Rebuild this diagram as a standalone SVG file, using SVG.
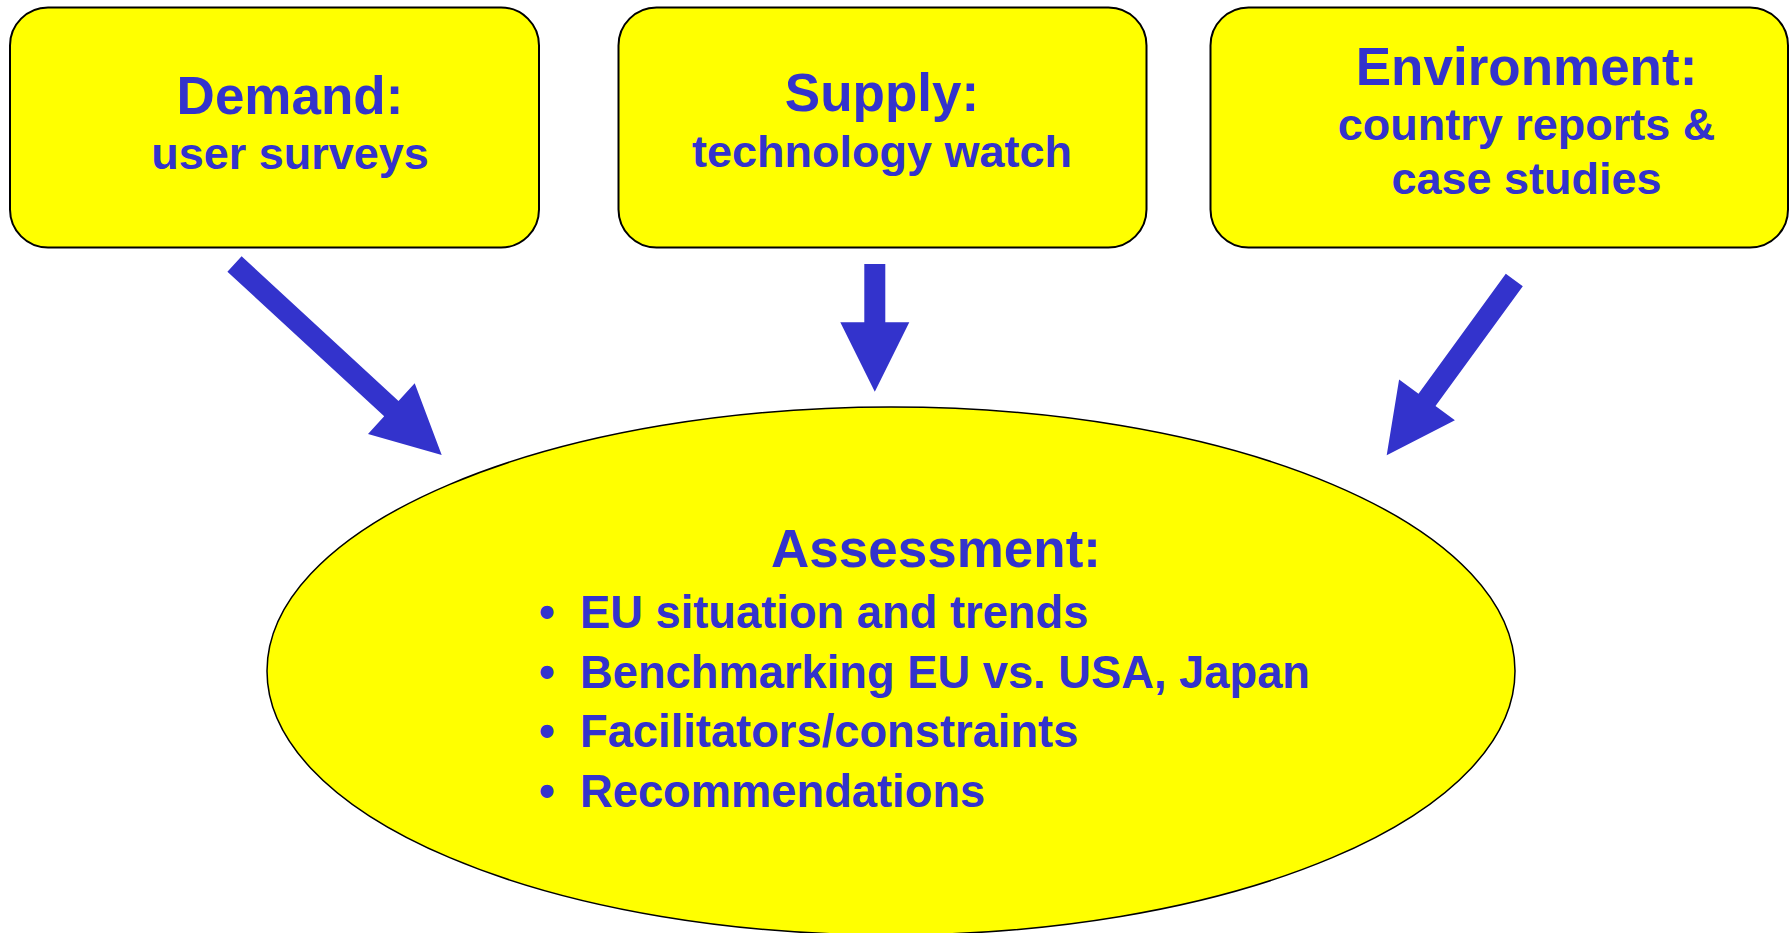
<svg xmlns="http://www.w3.org/2000/svg" width="1791" height="933" viewBox="0 0 1791 933">
<style>
.box{fill:#FFFF00;stroke:#000;stroke-width:2}
.ell{fill:#FFFF00;stroke:#000;stroke-width:1.5}
.t{font-family:"Liberation Sans",Arial,sans-serif;font-weight:bold;fill:#3333CC}
.h{font-size:53px;text-anchor:middle}
.s{font-size:45px;text-anchor:middle}
.b{font-size:45.3px}
.arrow{fill:#3333CC;stroke:none}
</style>
<rect width="1791" height="933" fill="#fff"/>
<g id="demand">
<rect class="box" x="10" y="7.5" width="529" height="240" rx="38"/>
<text class="t h" x="290" y="114">Demand:</text>
<text class="t s" x="290" y="169">user surveys</text>
</g>
<g id="supply">
<rect class="box" x="618.5" y="7.5" width="528" height="240" rx="38"/>
<text class="t h" x="882" y="111">Supply:</text>
<text class="t s" x="882" y="167">technology watch</text>
</g>
<g id="environment">
<rect class="box" x="1210.5" y="7.5" width="577.5" height="240" rx="38"/>
<text class="t h" x="1526.5" y="85">Environment:</text>
<text class="t s" x="1526.5" y="140">country reports &amp;</text>
<text class="t s" x="1526.5" y="194">case studies</text>
</g>
<g id="assessment">
<ellipse class="ell" cx="891" cy="671" rx="624" ry="264"/>
<text class="t h" x="936" y="567">Assessment:</text>
<text class="t b" x="539" y="628">•</text>
<text class="t b" x="580" y="628">EU situation and trends</text>
<text class="t b" x="539" y="688">•</text>
<text class="t b" x="580" y="688">Benchmarking EU vs. USA, Japan</text>
<text class="t b" x="539" y="747">•</text>
<text class="t b" x="580" y="747">Facilitators/constraints</text>
<text class="t b" x="539" y="807">•</text>
<text class="t b" x="580" y="807">Recommendations</text>
</g>
<g id="connectors">
<polygon class="arrow" points="227.4,271.7 241.6,256.3 398.5,400.9 414.7,383.2 441.7,455 368,433.9 384.2,416.3"/>
<polygon class="arrow" points="864.3,264 885.3,264 885.3,322.3 909.3,322.3 874.8,391.7 840.3,322.3 864.3,322.3"/>
<polygon class="arrow" points="1505.8,273.8 1522.8,286.2 1435.5,406.1 1454.9,420.2 1386.7,455.3 1399.1,379.6 1418.5,393.7"/>
</g>
</svg>
